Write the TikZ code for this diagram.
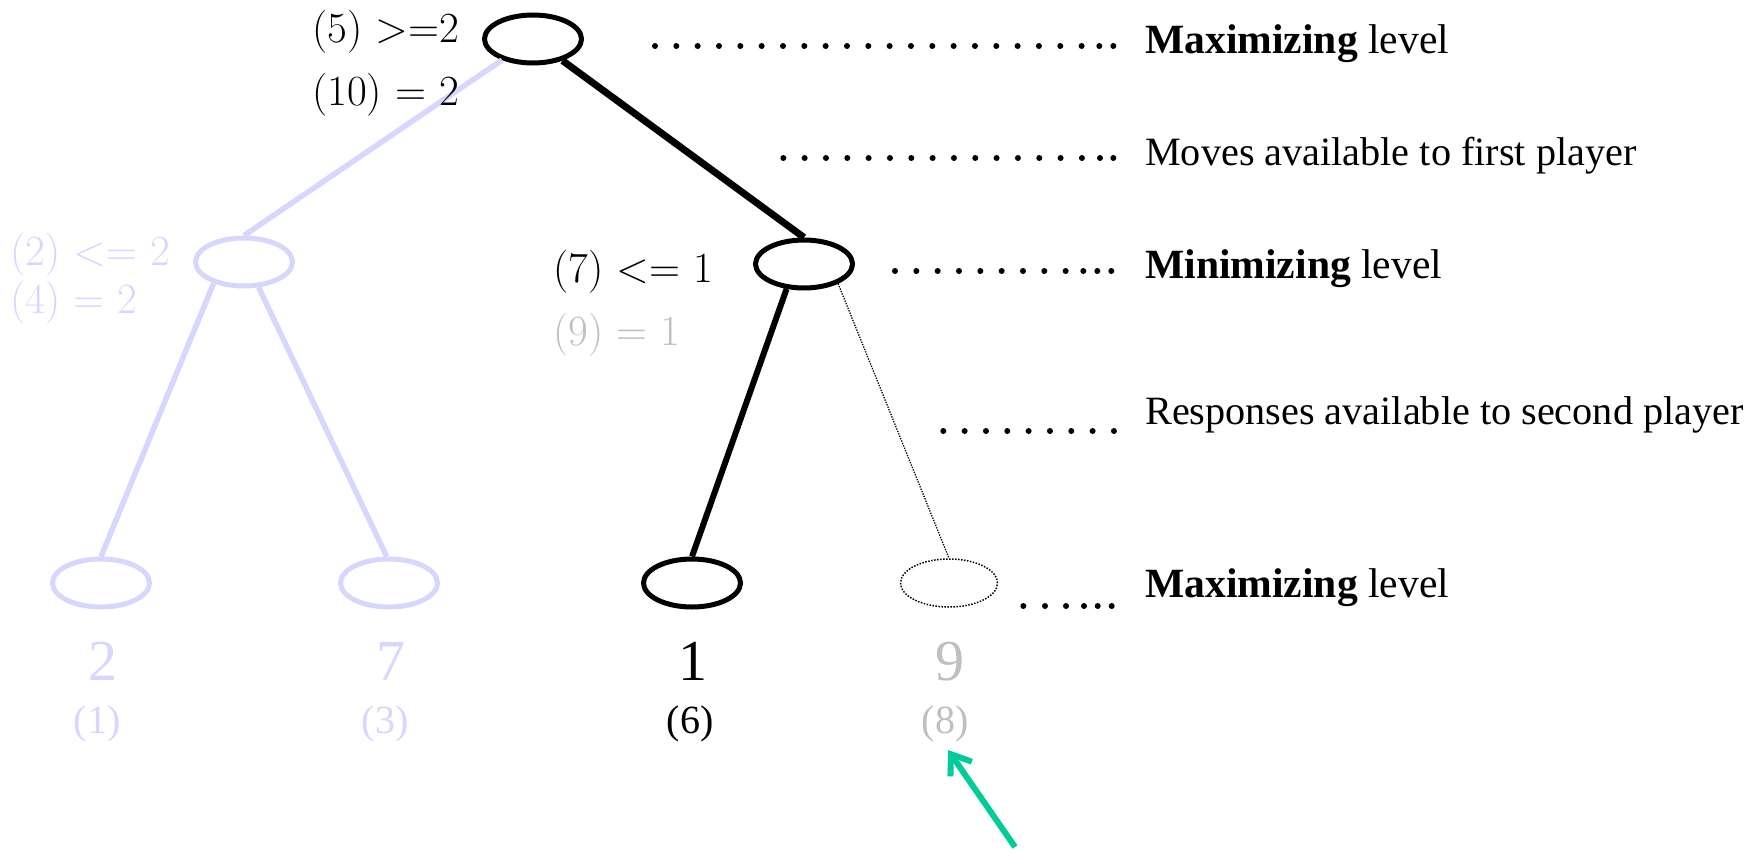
\documentclass[tikz,border=0pt]{standalone}
\usepackage{fontspec}
\newfontfamily\gfont{Liberation Serif}
\usetikzlibrary{shapes.geometric,arrows.meta}
\definecolor{lblue}{RGB}{214,214,255}
\definecolor{lgray}{RGB}{191,191,191}
\definecolor{tgreen}{RGB}{0,204,153}
\newcommand{\rtxtfont}{\gfont\fontsize{41.6}{50}\selectfont}
\newcommand{\rlongfont}{\gfont\fontsize{40.2}{48}\selectfont}
\newcommand{\lblfont}{\fontsize{43}{52}\selectfont}
\newcommand{\valfont}{\gfont\fontsize{58}{64}\selectfont}
\newcommand{\idxfont}{\gfont\fontsize{40}{48}\selectfont}
\tikzset{
  tnode/.style={ellipse, draw, line width=5pt, minimum width=97pt, minimum height=48pt, inner sep=0pt},
  tdotnode/.style={ellipse, draw, line width=1.5pt, dash pattern=on 1.5pt off 1.5pt, minimum width=97pt, minimum height=48pt, inner sep=0pt},
  bluedge/.style={draw=lblue, line width=5.5pt},
  blkedge/.style={draw=black, line width=6pt},
  dotedge/.style={draw=black, line width=1.3pt, dash pattern=on 1.3pt off 1.3pt},
  lbl/.style={anchor=base west, inner sep=0pt, font=\lblfont},
  rtxt/.style={anchor=base west, inner sep=0pt, font=\rtxtfont},
  rlong/.style={anchor=base west, inner sep=0pt, font=\rlongfont},
  val/.style={anchor=base, inner sep=0pt, font=\valfont},
  idx/.style={anchor=base, inner sep=0pt, font=\idxfont},
  leader/.style={fill=black},
}
\begin{document}
\begin{tikzpicture}[x=1pt,y=-1pt]
\useasboundingbox (0,0) rectangle (1752,851);
% nodes
\node[tnode] (root) at (533,39) {};
\node[tnode, draw=lblue] (left) at (244,262) {};
\node[tnode] (right) at (804,264) {};
\node[tnode, draw=lblue] (leaf1) at (101,583) {};
\node[tnode, draw=lblue] (leaf2) at (389,583) {};
\node[tnode] (leaf3) at (692,583) {};
\node[tdotnode] (leaf4) at (949,583) {};
% edges
\draw[bluedge] (root) -- (left.north);
\draw[blkedge, line width=7pt] (root) -- (right.north);
\draw[bluedge] (left.215) -- (leaf1.north);
\draw[bluedge] (left.300) -- (leaf2.95);
\draw[blkedge] (right.235) -- (leaf3.north);
\draw[dotedge] (right.330) -- (leaf4.north);
% labels
\node[lbl] (l5) at (312,42) {(5) >=2};
\node[lbl] (l10) at (312,105) {(10) = 2};
\node[lbl, text=lblue] (l2) at (10,265) {(2) <= 2};
\node[lbl, text=lblue] (l4) at (10,313) {(4) = 2};
\node[lbl] (l7) at (553,282) {(7) <= 1};
\node[lbl, text=lgray] (l9) at (553,345) {(9) = 1};
% leaf values
\node[val, text=lblue] (v1) at (103,680) {2};
\node[val, text=lblue] (v2) at (391,680) {7};
\node[val] (v3) at (693,680) {1};
\node[val, text=lgray] (v4) at (950,680) {9};
\node[idx, text=lblue] (i1) at (97,733) {(1)};
\node[idx, text=lblue] (i2) at (385,733) {(3)};
\node[idx] (i3) at (690,733) {(6)};
\node[idx, text=lgray] (i4) at (945,733) {(8)};
% right texts
\node[rtxt] (t1) at (1145,53) {\textbf{Maximizing} level};
\node[rlong] (t2) at (1145,165) {Moves available to first player};
\node[rtxt] (t3) at (1145,278) {\textbf{Minimizing} level};
\node[rlong] (t4) at (1145,424) {Responses available to second player};
\node[rtxt] (t5) at (1145,597) {\textbf{Maximizing} level};
% leader dots
\foreach \k in {0,...,20} \fill[leader] ({655+21.33*\k},46) circle (3pt);
\foreach \xx in {1099.3,1113.3} \fill[leader] (\xx,46) circle (3pt);
\foreach \k in {0,...,14} \fill[leader] ({783.3+21.33*\k},158) circle (3pt);
\foreach \xx in {1100,1113.3} \fill[leader] (\xx,158) circle (3pt);
\foreach \k in {0,...,8} \fill[leader] ({895+21.33*\k},271) circle (3pt);
\foreach \xx in {1083.3,1097.3,1111.3} \fill[leader] (\xx,271) circle (3pt);
\foreach \k in {0,...,8} \fill[leader] ({943.3+21.33*\k},431) circle (3pt);
\foreach \xx in {1023.3,1045,1066,1084,1097.7,1111.7} \fill[leader] (\xx,606) circle (3pt);
% green arrow
\coordinate (atail) at (1015,847);
\coordinate (atip) at (948,750);
\draw[tgreen, line width=6pt, -{Straight Barb[length=18pt,width=26pt]}] (atail) -- (atip);
\end{tikzpicture}
\end{document}
